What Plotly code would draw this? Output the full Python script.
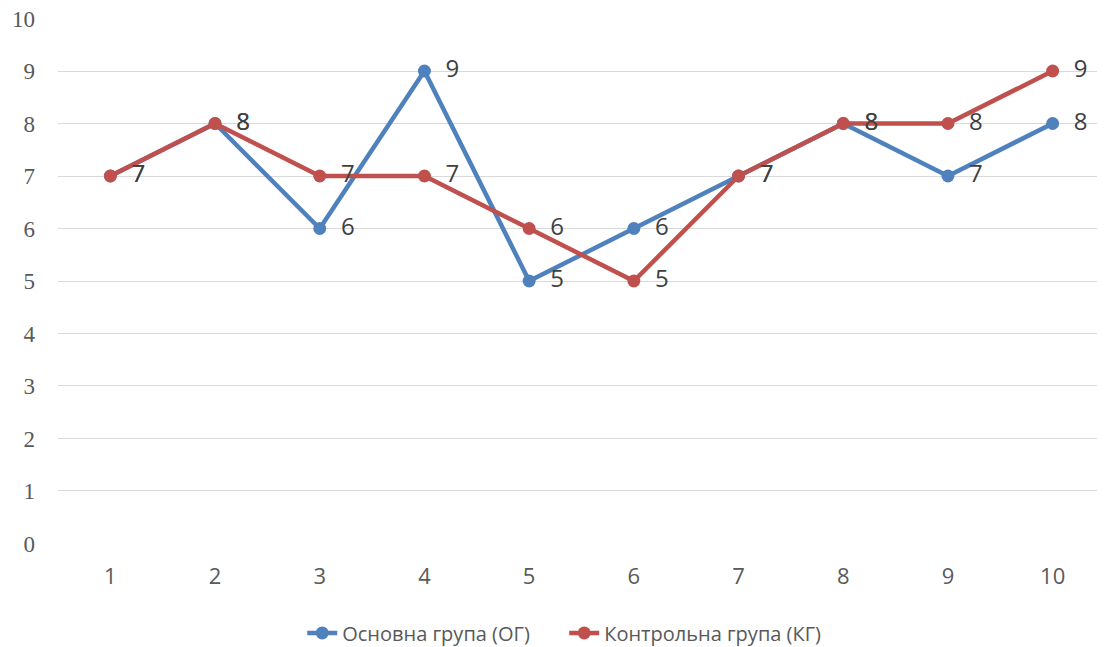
import plotly.graph_objects as go

categories = [1, 2, 3, 4, 5, 6, 7, 8, 9, 10]
main_group = [7, 8, 6, 9, 5, 6, 7, 8, 7, 8]
control_group = [7, 8, 7, 7, 6, 5, 7, 8, 8, 9]
series_names = ["Основна група (ОГ)", "Контрольна група (КГ)"]
y_ticks = [0, 1, 2, 3, 4, 5, 6, 7, 8, 9, 10]

blue = "#4f81bd"
red = "#c0504d"

fig = go.Figure()
for name, vals, col in [(series_names[0], main_group, blue), (series_names[1], control_group, red)]:
    fig.add_trace(go.Scatter(
        x=[str(c) for c in categories], y=vals, name=name,
        mode="lines+markers+text",
        line=dict(color=col, width=4.5),
        marker=dict(color=col, size=13),
        text=["\u2002" + str(v) for v in vals], textposition="middle right",
        textfont=dict(family="Open Sans", size=24, color="#404040"),
        cliponaxis=False,
    ))

fig.update_layout(
    width=1097, height=639,
    margin=dict(l=50, r=0, t=10, b=103, autoexpand=False),
    plot_bgcolor="white", paper_bgcolor="white",
    showlegend=True,
    legend=dict(orientation="h", x=0.4835, xanchor="center",
                yref="container", y=0.022, yanchor="middle",
                entrywidth=217,
                font=dict(family="Open Sans", size=20, color="#595959")),
    xaxis=dict(type="category", range=[-0.5, 9.5], showgrid=False, showline=False,
               ticks="", tickfont=dict(family="Open Sans", size=22, color="#595959"),
               ticklabelstandoff=17),
    yaxis=dict(range=[-0.01, 10.01], tickvals=y_ticks, showgrid=True, gridcolor="#d9d9d9",
               gridwidth=1.3, zeroline=False, showline=False, ticks="",
               ticklabeloverflow="allow",
               tickfont=dict(family="Liberation Serif", size=23, color="#595959"),
               ticklabelstandoff=22),
)

fig.write_html("out.html")
